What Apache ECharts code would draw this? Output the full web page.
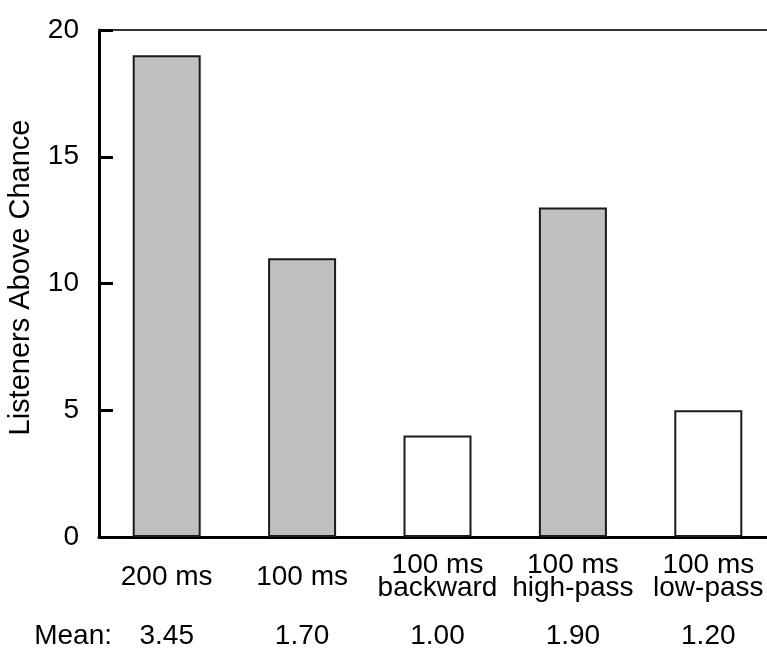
<!DOCTYPE html>
<html>
<head>
<meta charset="utf-8">
<script src="https://cdn.jsdelivr.net/npm/echarts@6/dist/echarts.min.js"></script>
<style>
  html, body { margin: 0; padding: 0; background: #fff; }
  #chart { width: 767px; height: 648px; }
</style>
</head>
<body>
<div id="chart"></div>
<script>
var categories = ['200 ms', '100 ms', '100 ms\nbackward', '100 ms\nhigh-pass', '100 ms\nlow-pass'];
var listeners = [19, 11, 4, 13, 5];
var means = ['3.45', '1.70', '1.00', '1.90', '1.20'];
// filled bars vs open bars
var filled = [true, true, false, true, false];

var font = 'Liberation Sans, Arial, Helvetica, sans-serif';

var chart = echarts.init(document.getElementById('chart'));

var barData = listeners.map(function (v, i) {
  return {
    value: v,
    itemStyle: {
      color: filled[i] ? '#c0c0c0' : '#ffffff',
      borderColor: '#1a1a1a',
      borderWidth: 2
    }
  };
});

chart.setOption({
  backgroundColor: '#fff',
  animation: false,
  grid: { left: 99, top: 30, width: 677, bottom: 111, outerBoundsMode: 'none', containLabel: false },
  xAxis: [
    {
      type: 'category',
      data: categories,
      position: 'bottom',
      axisLine: { lineStyle: { color: '#000', width: 3 } },
      axisTick: { show: false },
      axisLabel: {
        color: '#000', fontFamily: font, fontSize: 28,
        lineHeight: 23, verticalAlign: 'middle', margin: 40, interval: 0
      }
    },
    {
      type: 'category',
      data: categories,
      position: 'top',
      axisLine: { lineStyle: { color: '#333', width: 2 } },
      axisTick: { show: false },
      axisLabel: { show: false }
    },
    {
      type: 'category',
      data: means,
      position: 'bottom',
      offset: 99,
      axisLine: { show: false },
      axisTick: { show: false },
      axisLabel: {
        color: '#000', fontFamily: font, fontSize: 28,
        verticalAlign: 'middle', margin: 0, interval: 0
      },
      name: 'Mean:',
      nameLocation: 'start',
      nameGap: -13,
      nameTextStyle: { color: '#000', fontFamily: font, fontSize: 28, verticalAlign: 'middle' }
    }
  ],
  yAxis: {
    type: 'value',
    min: 0,
    max: 20,
    interval: 5,
    name: 'Listeners Above Chance',
    nameLocation: 'middle',
    nameGap: 64,
    nameTextStyle: { color: '#000', fontFamily: font, fontSize: 29, padding: [0, 0, 0, 12] },
    axisLine: { show: true, lineStyle: { color: '#000', width: 3 } },
    axisTick: { show: true, inside: true, length: 14, lineStyle: { color: '#000', width: 3 } },
    axisLabel: { color: '#000', fontFamily: font, fontSize: 28, margin: 20 },
    splitLine: { show: false }
  },
  series: [
    {
      type: 'bar',
      data: barData,
      barWidth: 68
    }
  ]
});
</script>
</body>
</html>
